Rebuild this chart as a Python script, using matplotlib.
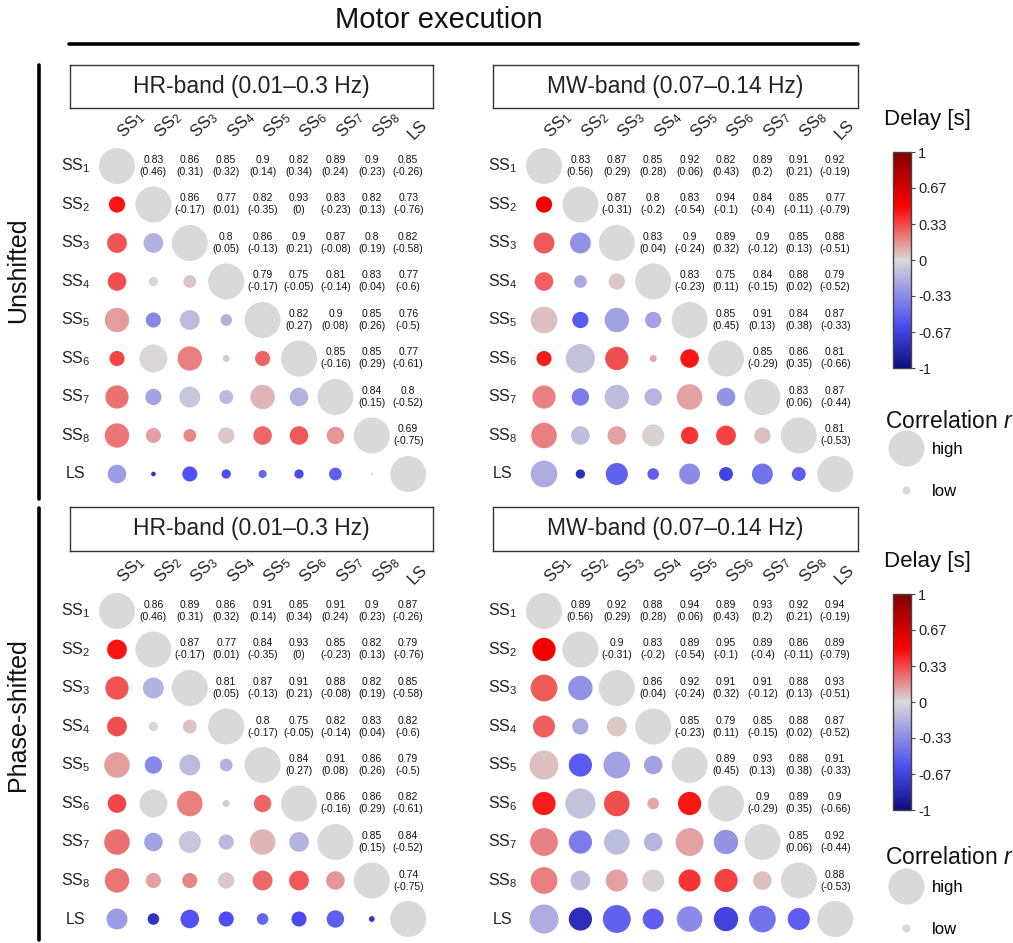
import matplotlib
matplotlib.use('Agg')
import matplotlib.pyplot as plt
import numpy as np
from matplotlib.colors import LinearSegmentedColormap, Normalize
from matplotlib.cm import ScalarMappable
from matplotlib.lines import Line2D

plt.rcParams['font.family'] = ['Liberation Sans', 'DejaVu Sans']
plt.rcParams['mathtext.fontset'] = 'custom'
plt.rcParams['mathtext.rm'] = 'Liberation Sans'
plt.rcParams['mathtext.it'] = 'Liberation Sans:italic'
plt.rcParams['mathtext.bf'] = 'Liberation Sans:bold'

# ---------------- data ----------------
labels = ['SS$_1$', 'SS$_2$', 'SS$_3$', 'SS$_4$', 'SS$_5$',
          'SS$_6$', 'SS$_7$', 'SS$_8$', 'LS']

# upper-triangle rows (row i, columns i+1 .. 8)
r_hr_unshifted = [
    [0.83, 0.86, 0.85, 0.9, 0.82, 0.89, 0.9, 0.85],
    [0.86, 0.77, 0.82, 0.93, 0.83, 0.82, 0.73],
    [0.8, 0.86, 0.9, 0.87, 0.8, 0.82],
    [0.79, 0.75, 0.81, 0.83, 0.77],
    [0.82, 0.9, 0.85, 0.76],
    [0.85, 0.85, 0.77],
    [0.84, 0.8],
    [0.69],
]
r_mw_unshifted = [
    [0.83, 0.87, 0.85, 0.92, 0.82, 0.89, 0.91, 0.92],
    [0.87, 0.8, 0.83, 0.94, 0.84, 0.85, 0.77],
    [0.83, 0.9, 0.89, 0.9, 0.85, 0.88],
    [0.83, 0.75, 0.84, 0.88, 0.79],
    [0.85, 0.91, 0.84, 0.87],
    [0.85, 0.86, 0.81],
    [0.83, 0.87],
    [0.81],
]
r_hr_shifted = [
    [0.86, 0.89, 0.86, 0.91, 0.85, 0.91, 0.9, 0.87],
    [0.87, 0.77, 0.84, 0.93, 0.85, 0.82, 0.79],
    [0.81, 0.87, 0.91, 0.88, 0.82, 0.85],
    [0.8, 0.75, 0.82, 0.83, 0.82],
    [0.84, 0.91, 0.86, 0.79],
    [0.86, 0.86, 0.82],
    [0.85, 0.84],
    [0.74],
]
r_mw_shifted = [
    [0.89, 0.92, 0.88, 0.94, 0.89, 0.93, 0.92, 0.94],
    [0.9, 0.83, 0.89, 0.95, 0.89, 0.86, 0.89],
    [0.86, 0.92, 0.91, 0.91, 0.88, 0.93],
    [0.85, 0.79, 0.85, 0.88, 0.87],
    [0.89, 0.93, 0.88, 0.91],
    [0.9, 0.89, 0.9],
    [0.85, 0.92],
    [0.88],
]
delay_hr = [
    [0.46, 0.31, 0.32, 0.14, 0.34, 0.24, 0.23, -0.26],
    [-0.17, 0.01, -0.35, 0, -0.23, 0.13, -0.76],
    [0.05, -0.13, 0.21, -0.08, 0.19, -0.58],
    [-0.17, -0.05, -0.14, 0.04, -0.6],
    [0.27, 0.08, 0.26, -0.5],
    [-0.16, 0.29, -0.61],
    [0.15, -0.52],
    [-0.75],
]
delay_mw = [
    [0.56, 0.29, 0.28, 0.06, 0.43, 0.2, 0.21, -0.19],
    [-0.31, -0.2, -0.54, -0.1, -0.4, -0.11, -0.79],
    [0.04, -0.24, 0.32, -0.12, 0.13, -0.51],
    [-0.23, 0.11, -0.15, 0.02, -0.52],
    [0.45, 0.13, 0.38, -0.33],
    [-0.29, 0.35, -0.66],
    [0.06, -0.44],
    [-0.53],
]
cbar_ticks = [1, 0.67, 0.33, 0, -0.33, -0.67, -1]
cbar_ticklabels = ['1', '0.67', '0.33', '0', '-0.33', '-0.67', '-1']
legend_r = [1.0, 0.76]
legend_labels = ['high', 'low']

# ---------------- helpers ----------------
W, H = 1013, 943
fig = plt.figure(figsize=(W / 100, H / 100), dpi=100)

cmap = LinearSegmentedColormap.from_list(
    'delay', [(0.0, '#0d0d80'), (0.2, '#4d4df2'), (0.5, '#d9d9d9'),
              (0.75, '#ff0000'), (1.0, '#800000')])
norm = Normalize(-1, 1)
GREY = '#d9d9d9'


def px_axes(left, top, width, height):
    return fig.add_axes([left / W, 1 - (top + height) / H, width / W, height / H])


def sym(upper, diag):
    n = len(upper) + 1
    M = np.full((n, n), float(diag))
    for i, row in enumerate(upper):
        for k, v in enumerate(row):
            j = i + 1 + k
            M[i, j] = v
            M[j, i] = v
    return M


def diam_px(r):
    return np.maximum(36.0 * (np.asarray(r) - 0.69) / 0.31, 1.0)


DX, DY = 36.4, 38.5


def draw_panel(x0, y0, upper_r, upper_d, title, box):
    R = sym(upper_r, 1.0)
    D = sym(upper_d, 0.0)
    n = R.shape[0]
    ax = px_axes(x0 - DX / 2, y0 - DY / 2, n * DX, n * DY)
    ax.set_xlim(-0.5, n - 0.5)
    ax.set_ylim(n - 0.5, -0.5)
    ax.axis('off')
    ii, jj = np.tril_indices(n)
    sizes = (diam_px(R[ii, jj]) * 0.72) ** 2
    cols = cmap(norm(D[ii, jj]))
    diag = ii == jj
    cols[diag] = matplotlib.colors.to_rgba(GREY)
    ax.scatter(jj, ii, s=sizes, c=cols, edgecolors='none', clip_on=False, zorder=2)
    iu, ju = np.triu_indices(n, 1)
    for i, j in zip(iu, ju):
        ax.text(j, i, f"{R[i, j]:g}\n({D[i, j]:g})", ha='center', va='center',
                fontsize=7.5, linespacing=1.25, color='#111111')
    for i in range(n):
        ax.text(-1.13, i, labels[i], ha='center', va='center', fontsize=11.5,
                color='#222222')
        ax.text(i - 0.08, -0.62, labels[i], rotation=45, ha='left', va='bottom',
                fontsize=12, color='#222222')
    bx = px_axes(*box)
    bx.set_xticks([])
    bx.set_yticks([])
    for sp in bx.spines.values():
        sp.set_color('#333333')
        sp.set_linewidth(1.0)
    bx.text(0.5, 0.5, title, ha='center', va='center', fontsize=16.5,
            color='#222222', transform=bx.transAxes)


def draw_sidebar(dy, title_y, leg_top):
    fig.text(927 / W, 1 - (119 + dy) / H, 'Delay [s]', ha='center', va='center',
             fontsize=16, color='#111111')
    cax = px_axes(893, 152 + dy, 18, 216)
    cb = fig.colorbar(ScalarMappable(norm=norm, cmap=cmap), cax=cax,
                      ticks=cbar_ticks)
    cb.ax.set_yticklabels(cbar_ticklabels)
    cb.ax.tick_params(labelsize=10.5, length=3, width=0.8, color='#444444',
                      pad=2, labelcolor='#222222')
    cb.outline.set_edgecolor('#444444')
    cb.outline.set_linewidth(1.0)
    fig.text(885 / W, 1 - title_y / H, 'Correlation $r$', ha='left',
             va='center', fontsize=16.5, color='#111111')
    handles = [Line2D([], [], ls='none', marker='o', ms=float(diam_px(r)) * 0.72,
                      mfc=GREY, mec='none') for r in legend_r]
    fig.legend(handles, legend_labels,
               loc='upper left', bbox_to_anchor=(885 / W, 1 - leg_top / H),
               frameon=False, fontsize=12,
               handlelength=2.5, handletextpad=0.32,
               labelspacing=1.62, borderpad=0, borderaxespad=0)


# ---------------- figure ----------------
fig.text(439 / W, 1 - 20 / H, 'Motor execution', ha='center', va='center',
         fontsize=21, color='#111111')
fig.add_artist(Line2D([69 / W, 858 / W], [1 - 44 / H, 1 - 44 / H], lw=2.6,
                      color='black', solid_capstyle='round'))
fig.add_artist(Line2D([39 / W, 39 / W], [1 - 65 / H, 1 - 499 / H], lw=2.6,
                      color='black', solid_capstyle='round'))
fig.add_artist(Line2D([39 / W, 39 / W], [1 - 508 / H, 1 - 940 / H], lw=2.6,
                      color='black', solid_capstyle='round'))
fig.text(18 / W, 1 - 270 / H, 'Unshifted', rotation=90, ha='center', va='center',
         fontsize=18, color='#111111')
fig.text(18 / W, 1 - 715 / H, 'Phase-shifted', rotation=90, ha='center',
         va='center', fontsize=18, color='#111111')

draw_panel(117, 166, r_hr_unshifted, delay_hr, 'HR-band (0.01–0.3 Hz)',
           (70, 65, 363, 43))
draw_panel(544, 166, r_mw_unshifted, delay_mw, 'MW-band (0.07–0.14 Hz)',
           (493, 65, 365, 43))
draw_panel(117, 611, r_hr_shifted, delay_hr, 'HR-band (0.01–0.3 Hz)',
           (70, 507, 363, 44))
draw_panel(544, 611, r_mw_shifted, delay_mw, 'MW-band (0.07–0.14 Hz)',
           (493, 507, 365, 44))

draw_sidebar(0, 422, 442)
draw_sidebar(442, 857, 880)

fig.savefig('out.png', dpi=100)
